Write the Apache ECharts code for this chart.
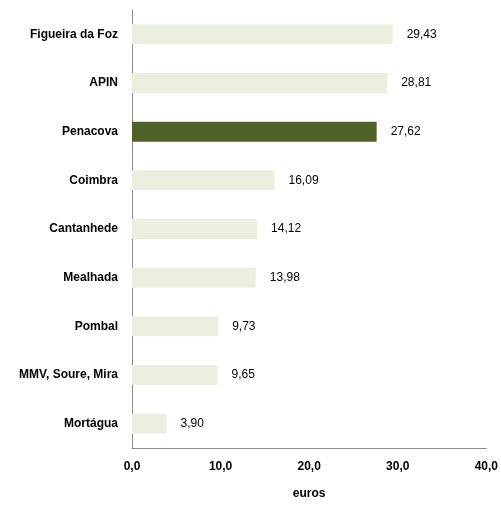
<!DOCTYPE html>
<html>
<head>
<meta charset="utf-8">
<script src="https://cdn.jsdelivr.net/npm/echarts@6/dist/echarts.min.js"></script>
<style>
  html, body { margin: 0; padding: 0; background: #fff; }
  #chart { width: 501px; height: 505px; }
</style>
</head>
<body>
<div id="chart"></div>
<script>
var categories = ['Figueira da Foz', 'APIN', 'Penacova', 'Coimbra', 'Cantanhede', 'Mealhada', 'Pombal', 'MMV, Soure, Mira', 'Mortágua'];
var values = [29.43, 28.81, 27.62, 16.09, 14.12, 13.98, 9.73, 9.65, 3.90];
var highlight = 'Penacova';

var font = '"Liberation Sans Narrow", "Arial Narrow", "Liberation Sans", Arial, sans-serif';
var chart = echarts.init(document.getElementById('chart'));

var barData = values.map(function(v, i){
  return {
    value: v,
    itemStyle: { color: categories[i] == highlight ? '#4f6228' : '#ebefdf' }
  };
});

chart.setOption({
  animation: false,
  grid: { left: 132, right: 12, top: 10, bottom: 51, containLabel: false },
  xAxis: {
    type: 'value',
    min: 0, max: 40, interval: 10,
    name: 'euros',
    nameLocation: 'middle',
    nameGap: 40,
    nameTextStyle: { fontFamily: font, fontWeight: 'bold', fontSize: 12, color: '#000' },
    axisLine: { show: true, lineStyle: { color: '#8c8c8c', width: 1 } },
    axisTick: { show: false },
    splitLine: { show: false },
    axisLabel: {
      margin: 13,
      fontFamily: font, fontWeight: 'bold', fontSize: 12, color: '#000',
      formatter: function(v){ return v.toFixed(1).replace('.', ','); }
    }
  },
  yAxis: {
    type: 'category',
    data: categories,
    inverse: true,
    axisLine: { show: true, lineStyle: { color: '#8c8c8c', width: 1 } },
    axisTick: { show: false },
    axisLabel: { margin: 14, fontFamily: font, fontWeight: 'bold', fontSize: 12, color: '#000' }
  },
  series: [{
    type: 'bar',
    data: barData,
    barWidth: 20,
    label: {
      show: true,
      position: 'right',
      distance: 14,
      fontFamily: font, fontSize: 12, color: '#000',
      formatter: function(p){ return p.value.toFixed(2).replace('.', ','); }
    }
  }]
});
</script>
</body>
</html>
